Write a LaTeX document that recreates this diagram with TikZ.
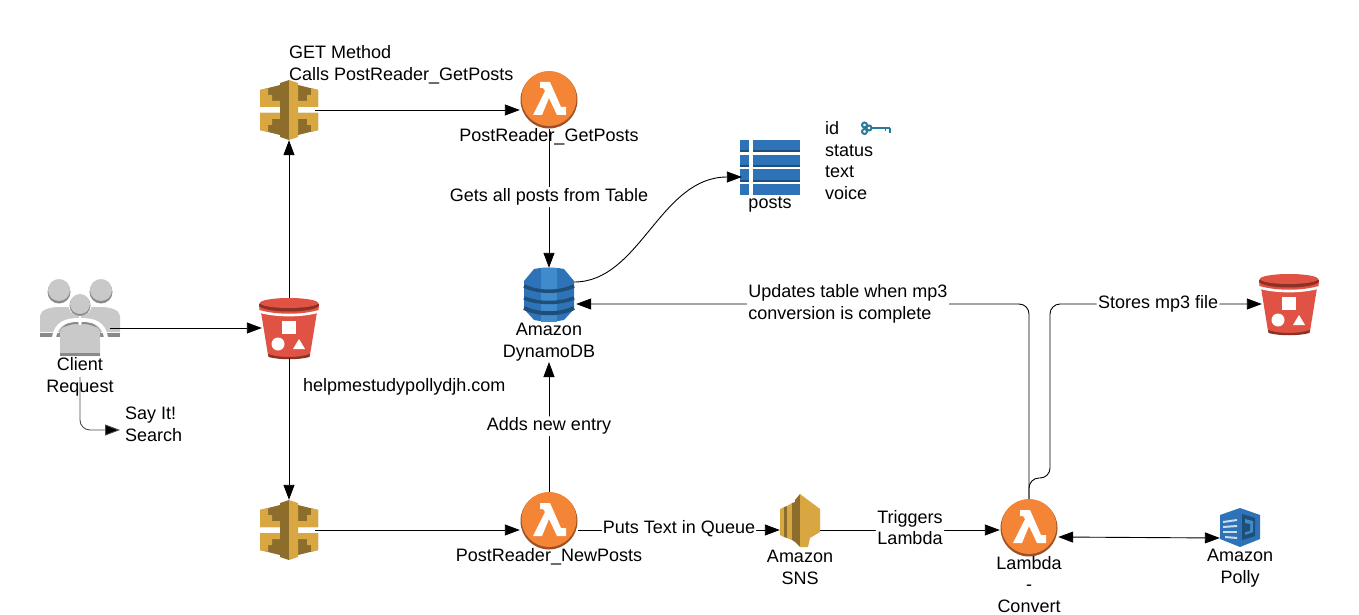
\documentclass[tikz,border=0pt]{standalone}
\usepackage{fontspec}
\setmainfont{Liberation Sans}
\usetikzlibrary{arrows.meta}

\definecolor{bucketred}{HTML}{E05243}
\definecolor{bucketdark}{HTML}{8C3123}
\definecolor{lambdaorange}{HTML}{F58536}
\definecolor{lambdadark}{HTML}{9D5025}
\definecolor{goldlight}{HTML}{D9A741}
\definecolor{golddark}{HTML}{8C6D2C}
\definecolor{dynamoblue}{HTML}{2E73B8}
\definecolor{dynamolight}{HTML}{3F8BCB}
\definecolor{dynamodark}{HTML}{1F4E79}
\definecolor{usergray}{HTML}{C9C9C9}
\definecolor{userdark}{HTML}{8A8A8A}
\definecolor{keyblue}{HTML}{2A7A9C}

\tikzset{
	arrowline/.style={draw=black, line width=0.9pt, -{Triangle[length=15pt, width=11pt, fill=black]}, rounded corners=10pt},
	iconbox/.style={inner sep=0pt, minimum width=#1, minimum height=#1},
	textlabel/.style={inner sep=1pt, align=center},
	leftlabel/.style={inner sep=0pt, align=left, anchor=west},
	edgelabel/.style={fill=white, inner sep=1.5pt, align=center},
	bucket/.pic={
		\fill[bucketred] (-28, -16) -- (28, -16) -- (21, 27) .. controls (10, 31) and (-10, 31) .. (-21, 27) -- cycle;
		\fill[bucketdark] (-21, 26) .. controls (-10, 30) and (10, 30) .. (21, 26) -- (20.5, 29) .. controls (10, 32) and (-10, 32) .. (-20.5, 29) -- cycle;
		\fill[white] (-30, -24) -- (30, -24) -- (29, -15) .. controls (12, -10.5) and (-12, -10.5) .. (-29, -15) -- cycle;
		\fill[bucketred] (-30, -23) arc[start angle=180, end angle=360, x radius=30, y radius=6.5] -- (29.5, -18) .. controls (12, -13) and (-12, -13) .. (-29.5, -18) -- cycle;
		\fill[bucketdark] (0, -23) ellipse[x radius=30, y radius=6.5];
		\fill[bucketred] (0, -25) ellipse[x radius=29, y radius=5];
		\fill[white] (-7, -7) rectangle (7, 6);
		\fill[white] (-11, 16) circle[radius=6.5];
		\fill[white] (10, 11) -- (16, 21) -- (4, 21) -- cycle;
	},
	lambda/.pic={
		\fill[lambdadark] (0, 0) circle[radius=28.5];
		\fill[lambdaorange] (0, -1.5) circle[radius=27.5];
		\fill[white] (-9, -18) -- (1, -18) -- (12, 7) -- (17, 7) -- (17, 15) -- (8, 15) -- (0, -2) -- (-7, 15) -- (-16, 15) -- (-4, -9) -- (-6, -12) -- (-9, -12) -- cycle;
	},
	apigate/.pic={
		\fill[golddark] (-29, -20) -- (-9, -25) -- (-9, -3) -- (-29, -3) -- cycle;
		\fill[golddark] (-29, 3) -- (-9, 3) -- (-9, 25) -- (-29, 20) -- cycle;
		\fill[goldlight] (-29, -20) -- (-21, -22) -- (-21, -15) -- (-17, -15) -- (-17, -9) -- (-8, -9) -- (-8, -3) -- (-29, -3) -- cycle;
		\fill[goldlight] (-29, 20) -- (-21, 22) -- (-21, 15) -- (-17, 15) -- (-17, 9) -- (-8, 9) -- (-8, 3) -- (-29, 3) -- cycle;
		\fill[golddark] (29, -20) -- (9, -25) -- (9, -3) -- (29, -3) -- cycle;
		\fill[golddark] (29, 3) -- (9, 3) -- (9, 25) -- (29, 20) -- cycle;
		\fill[goldlight] (29, -20) -- (22, -22) -- (22, -15) -- (18, -15) -- (18, -9) -- (8, -9) -- (8, -3) -- (29, -3) -- cycle;
		\fill[goldlight] (29, 20) -- (22, 22) -- (22, 15) -- (18, 15) -- (18, 9) -- (8, 9) -- (8, 3) -- (29, 3) -- cycle;
		\fill[golddark] (-9, -27) -- (0, -30) -- (0, 30) -- (-9, 27) -- cycle;
		\fill[goldlight] (9, -27) -- (0, -30) -- (0, 30) -- (9, 27) -- cycle;
	},
	dynamo/.pic={
		\fill[dynamoblue] (-25, -14) -- (-15, -26) .. controls (-5, -28) and (5, -28) .. (15, -26) -- (25, -14) -- (25, 14) -- (15, 25) .. controls (5, 27) and (-5, 27) .. (-15, 25) -- (-25, 14) -- cycle;
		\fill[dynamolight] (-8, -27) -- (8, -27) -- (8, 27) -- (-8, 27) -- cycle;
		\draw[dynamodark, line width=3.5pt] (-25, -9) .. controls (-10, -2) and (10, -2) .. (25, -9);
		\draw[dynamodark, line width=3.5pt] (-25, 3) .. controls (-10, 9) and (10, 9) .. (25, 3);
		\draw[dynamodark, line width=4pt] (-25, 13) .. controls (-10, 20) and (10, 20) .. (25, 13);
	},
	usergroup/.pic={
		\fill[userdark] (-21, -26) circle[radius=11.5];
		\fill[usergray] (-21, -28) circle[radius=11];
		\fill[userdark] (21, -26) circle[radius=11.5];
		\fill[usergray] (21, -28) circle[radius=11];
		\fill[usergray] (-40, 14) -- (-40, -2) .. controls (-40, -8) and (-30, -11) .. (-21, -11) -- (21, -11) .. controls (30, -11) and (40, -8) .. (40, -2) -- (40, 14) -- cycle;
		\fill[userdark] (-40, 15) rectangle (-13, 19);
		\fill[userdark] (13, 15) rectangle (40, 19);
		\draw[white, line width=4pt] (-26, 20) .. controls (-24, 5) and (-14, 2) .. (0, 2) .. controls (14, 2) and (24, 5) .. (26, 20);
		\draw[userdark, line width=2pt] (-20, 16) .. controls (-18, 8) and (-12, 5) .. (-2, 5);
		\draw[userdark, line width=2pt] (20, 16) .. controls (18, 8) and (12, 5) .. (2, 5);
		\fill[usergray] (-20, 38) -- (-20, 14) .. controls (-20, 8) and (-10, 7) .. (0, 7) .. controls (10, 7) and (20, 8) .. (20, 14) -- (20, 38) -- cycle;
		\fill[userdark] (-20, 35) rectangle (20, 38);
		\fill[white] (-1, -6) rectangle (1, 7);
		\fill[white] (0, -14) circle[radius=12];
		\fill[userdark] (0, -12.5) circle[radius=10.5];
		\fill[usergray] (0, -14) circle[radius=10];
	},
	tableicon/.pic={
		\fill[dynamoblue] (-30, -27) rectangle (-21, -16);
		\fill[dynamoblue] (-17, -27) rectangle (30, -16);
		\fill[dynamoblue] (-30, -12) rectangle (-21, -1);
		\fill[dynamoblue] (-17, -12) rectangle (30, -1);
		\fill[dynamoblue] (-30, 2) rectangle (-21, 14);
		\fill[dynamoblue] (-17, 2) rectangle (30, 14);
		\fill[dynamoblue] (-30, 17) rectangle (-21, 28);
		\fill[dynamoblue] (-17, 17) rectangle (30, 28);
		\fill[dynamodark] (-30, -17) rectangle (30, -15.5);
		\fill[dynamodark] (-30, -2) rectangle (30, -0.5);
		\fill[dynamodark] (-30, 13) rectangle (30, 14.5);
		\fill[white] (-21, -28) rectangle (-17, 29);
	},
	keyicon/.pic={
		\draw[keyblue, line width=2pt] (-10.5, -3) circle[radius=2.5];
		\draw[keyblue, line width=2pt] (-10.5, 3.5) circle[radius=2.5];
		\draw[keyblue, line width=2pt] (-6, 0) circle[radius=2.5];
		\draw[keyblue, line width=2.5pt] (-3, 0) -- (15, 0);
		\draw[keyblue, line width=2pt] (14.5, 0) -- (14.5, 5);
		\draw[keyblue, line width=1.5pt] (10.5, 0) -- (10.5, 3.5);
	},
	snsicon/.pic={
		\fill[goldlight] (-20, -11) -- (-16, -13) -- (-16, 17) -- (-20, 15) -- cycle;
		\fill[golddark] (-16, -13) -- (-13, -14) -- (-13, 18) -- (-16, 17) -- cycle;
		\fill[goldlight] (-13, -14) -- (-8, -17) -- (-8, 20) -- (-13, 18) -- cycle;
		\fill[golddark] (-8, -17) -- (-5, -18) -- (-5, 22) -- (-8, 20) -- cycle;
		\fill[golddark] (-5, -20) -- (0, -26) -- (0, 27) -- (-5, 22) -- cycle;
		\fill[goldlight] (0, -26) -- (20, -11) -- (20, 12) -- (10, 18) -- (8, 27) -- (0, 27) -- cycle;
	},
	pollyicon/.pic={
		\fill[dynamoblue] (-20, -12) -- (0, -19) -- (20, -12) -- (20, 12) -- (0, 20) -- (-20, 12) -- cycle;
		\fill[dynamodark] (2, -13) -- (15, -9) -- (15, 9) -- (2, 13) -- cycle;
		\fill[dynamolight] (5, -8) -- (13, -6) -- (13, 5) -- (5, 8) -- cycle;
		\fill[dynamodark] (5, -4) -- (10, -3) -- (10, 4) -- (5, 5) -- cycle;
		\fill[white!75!dynamoblue] (-17, -6) -- (-3, -8) -- (-3, -6) -- (-17, -4) -- cycle;
		\fill[white!75!dynamoblue] (-17, -1) -- (-3, -2) -- (-3, 0) -- (-17, 1) -- cycle;
		\fill[white!75!dynamoblue] (-17, 4) -- (-3, 4) -- (-3, 6) -- (-17, 6) -- cycle;
		\fill[white!75!dynamoblue] (-15, 9) -- (-3, 10) -- (-3, 12) -- (-15, 11) -- cycle;
	}
}

\begin{document}
\begin{tikzpicture}[x=1pt, y=-1pt, font=\fontsize{18}{21.5}\selectfont]
		\useasboundingbox (0, 0) rectangle (1359, 615);

		% icons
		\node[iconbox=60pt] (users) at (80, 318) {};
		\pic at (users) {usergroup};
		\node[iconbox=60pt] (siteBucket) at (289, 328) {};
		\pic at (siteBucket) {bucket};
		\node[iconbox=60pt] (audioBucket) at (1289, 304) {};
		\pic at (audioBucket) {bucket};
		\node[iconbox=60pt] (apiGet) at (289, 110) {};
		\pic at (apiGet) {apigate};
		\node[iconbox=60pt] (apiNew) at (289, 530) {};
		\pic at (apiNew) {apigate};
		\node[iconbox=58pt] (getPosts) at (549, 100) {};
		\pic at (getPosts) {lambda};
		\node[iconbox=58pt] (newPosts) at (549, 521) {};
		\pic at (newPosts) {lambda};
		\node[iconbox=58pt] (convert) at (1029, 528) {};
		\pic at (convert) {lambda};
		\node[iconbox=54pt] (dynamoDB) at (549, 295) {};
		\pic at (dynamoDB) {dynamo};
		\node[iconbox=56pt] (postsTable) at (770, 167) {};
		\pic at (postsTable) {tableicon};
		\node[iconbox=40pt] (sns) at (800, 520) {};
		\pic at (sns) {snsicon};
		\node[iconbox=40pt] (polly) at (1240, 527) {};
		\pic at (polly) {pollyicon};
		\node[iconbox=20pt] (idKey) at (875, 128) {};
		\pic at (idKey) {keyicon};

		% labels
		\node[textlabel] (clientLabel) at (80, 377) {Client\\Request};
		\node[leftlabel] (searchLabel) at (125, 424.5) {Say It!\\Search};
		\node[leftlabel] (siteLabel) at (303, 386.5) {helpmestudypollydjh.com};
		\node[leftlabel] (getLabel) at (289, 65) {GET Method\\Calls PostReader\_GetPosts};
		\node[textlabel] (getPostsLabel) at (549, 136.5) {PostReader\_GetPosts};
		\node[textlabel] (postsLabel) at (770, 205) {posts};
		\node[leftlabel] (fieldsLabel) at (825, 160.5) {id\\status\\text\\voice};
		\node[textlabel] (dynamoLabel) at (549, 342) {Amazon\\DynamoDB};
		\node[textlabel] (newPostsLabel) at (549, 557) {PostReader\_NewPosts};
		\node[textlabel] (snsLabel) at (800, 567.5) {Amazon\\SNS};
		\node[textlabel] (convertLabel) at (1029, 584.5) {Lambda\\-\\Convert};
		\node[textlabel] (pollyLabel) at (1240, 568) {Amazon\\Polly};

		% connectors
		\draw[arrowline] (users.east |- siteBucket) -- ([xshift=3pt]siteBucket.west);
		\draw[arrowline] (siteBucket.north) -- (apiGet.south);
		\draw[arrowline] (siteBucket.south) -- (apiNew.north);
		\draw[arrowline] ([xshift=-4pt]apiGet.east) -- (apiGet.east -| getPosts.west);
		\draw[arrowline] ([xshift=-4pt]apiNew.east) -- (apiNew.east -| newPosts.west);
		\draw[arrowline] (getPosts.south) -- node[edgelabel, pos=0.49] (readLabel) {Gets all posts from Table} (dynamoDB.north);
		\draw[arrowline] (newPosts.north) -- node[edgelabel, pos=0.505] (addLabel) {Adds new entry} (dynamoLabel.south);
		\draw[arrowline] ([yshift=-10pt]newPosts.east |- sns.west) -- node[edgelabel, pos=0.5, yshift=1.5pt] (queueLabel) {Puts Text in Queue} ([yshift=-10pt]sns.west);
		\draw[arrowline] ([yshift=-10pt]sns.east) -- node[edgelabel, pos=0.5, yshift=2.5pt] (triggerLabel) {Triggers\\Lambda} ([yshift=-10pt]sns.east -| convert.west);
		\draw[arrowline, {Triangle[length=15pt, width=11pt, fill=black]}-{Triangle[length=15pt, width=11pt, fill=black]}] ([yshift=-9pt]convert.east) -- ([yshift=-11pt]polly.west);
		\draw[arrowline] (convert.north) -- (1029, 304) -- node[edgelabel, pos=0.40, yshift=0pt, align=left] (updateLabel) {Updates table when mp3\\conversion is complete} ([yshift=-9pt]dynamoDB.east);
		\draw[arrowline] (convert.north) -- (1029, 478) -- (1050, 478) -- (1050, 304) -- node[edgelabel, pos=0.51, yshift=0.5pt] (storeLabel) {Stores mp3 file} ([xshift=3pt]audioBucket.west);
		\draw[arrowline] ([xshift=-2pt, yshift=13pt]dynamoDB.east) .. controls (640, 282) and (660, 177) .. ([yshift=-10pt]postsTable.west);
		\draw[arrowline, draw=black!70] (clientLabel.center) -- (80, 430) -- ([xshift=-5pt]searchLabel.west |- 0, 430);
\end{tikzpicture}
\end{document}
